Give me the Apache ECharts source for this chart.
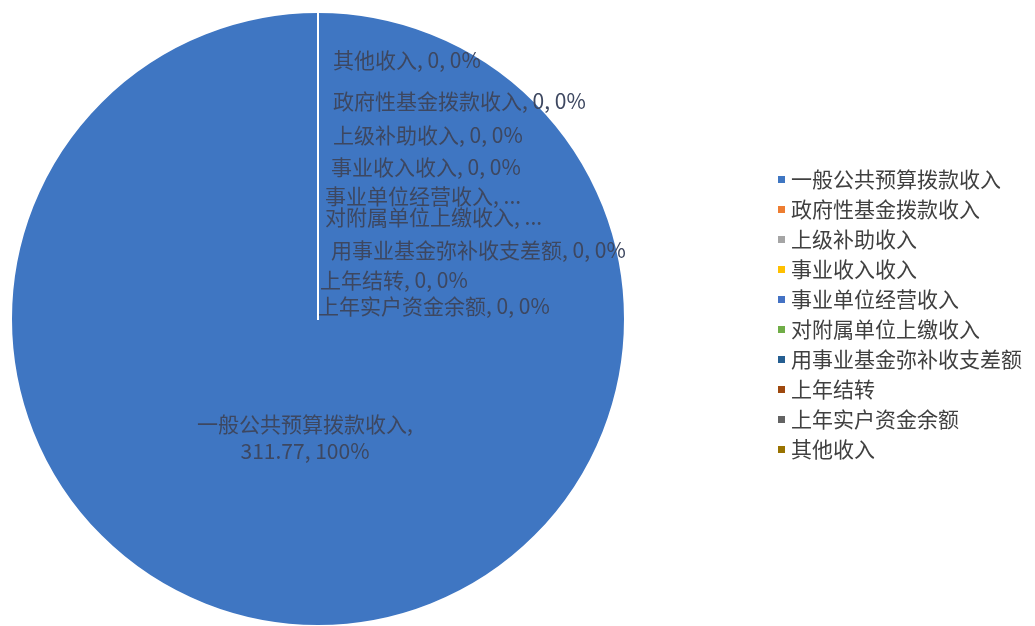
<!DOCTYPE html>
<html>
<head>
<meta charset="utf-8">
<script src="https://cdn.jsdelivr.net/npm/echarts@6/dist/echarts.min.js"></script>
<style>
html,body{margin:0;padding:0;background:#fff;}
#main{width:1035px;height:626px;}
</style>
</head>
<body>
<div id="main"></div>
<script>
var categories = ['一般公共预算拨款收入','政府性基金拨款收入','上级补助收入','事业收入收入','事业单位经营收入','对附属单位上缴收入','用事业基金弥补收支差额','上年结转','上年实户资金余额','其他收入'];
var values = [311.77, 0, 0, 0, 0, 0, 0, 0, 0, 0];
var percents = ['100%','0%','0%','0%','0%','0%','0%','0%','0%','0%'];
var colors = ['#3f76c2','#ED7D31','#A5A5A5','#FFC000','#4472C4','#70AD47','#255E91','#9E480E','#636363','#997300'];
var truncated = [4, 5];

// label placement (layout only)
var labelPos = {
  0: [305, 438, 'center'],
  1: [333, 101, 'left'],
  2: [333, 135, 'left'],
  3: [331, 167, 'left'],
  4: [325, 196, 'left'],
  5: [325, 217, 'left'],
  6: [331, 250, 'left'],
  7: [320, 280, 'left'],
  8: [318, 306, 'left'],
  9: [333, 60, 'left']
};

var chart = echarts.init(document.getElementById('main'));
var font = '"Noto Sans CJK SC", "Noto Sans", sans-serif';
var data = categories.map(function(n, i){
  return {name: n, value: values[i], itemStyle: {color: colors[i]}};
});
chart.setOption({
  animation: false,
  color: colors,
  legend: {
    orient: 'vertical',
    left: 771,
    top: 164,
    itemWidth: 9,
    itemHeight: 9,
    itemGap: 9,
    icon: 'rect',
    textStyle: {fontFamily: font, fontSize: 21, color: '#404040'},
    data: categories
  },
  series: [{
    type: 'pie',
    center: [318, 319],
    radius: 307,
    startAngle: 90,
    clockwise: true,
    stillShowZeroSum: true,
    avoidLabelOverlap: false,
    itemStyle: {borderColor: '#ffffff', borderWidth: 2},
    label: {
      show: true,
      position: 'inside',
      fontFamily: font,
      fontSize: 21,
      color: '#3d4760',
      formatter: function(p){
        var i = p.dataIndex;
        if (i === 0) return categories[i] + ',\n' + values[i] + ', ' + percents[i];
        if (truncated.indexOf(i) >= 0) return categories[i] + ', ...';
        return categories[i] + ', ' + values[i] + ', ' + percents[i];
      },
      lineHeight: 27
    },
    labelLine: {show: false},
    labelLayout: function(p){
      var lp = labelPos[p.dataIndex];
      return {x: lp[0], y: lp[1], align: lp[2], verticalAlign: 'middle'};
    },
    emphasis: {disabled: true},
    data: data
  }]
});
</script>
</body>
</html>
